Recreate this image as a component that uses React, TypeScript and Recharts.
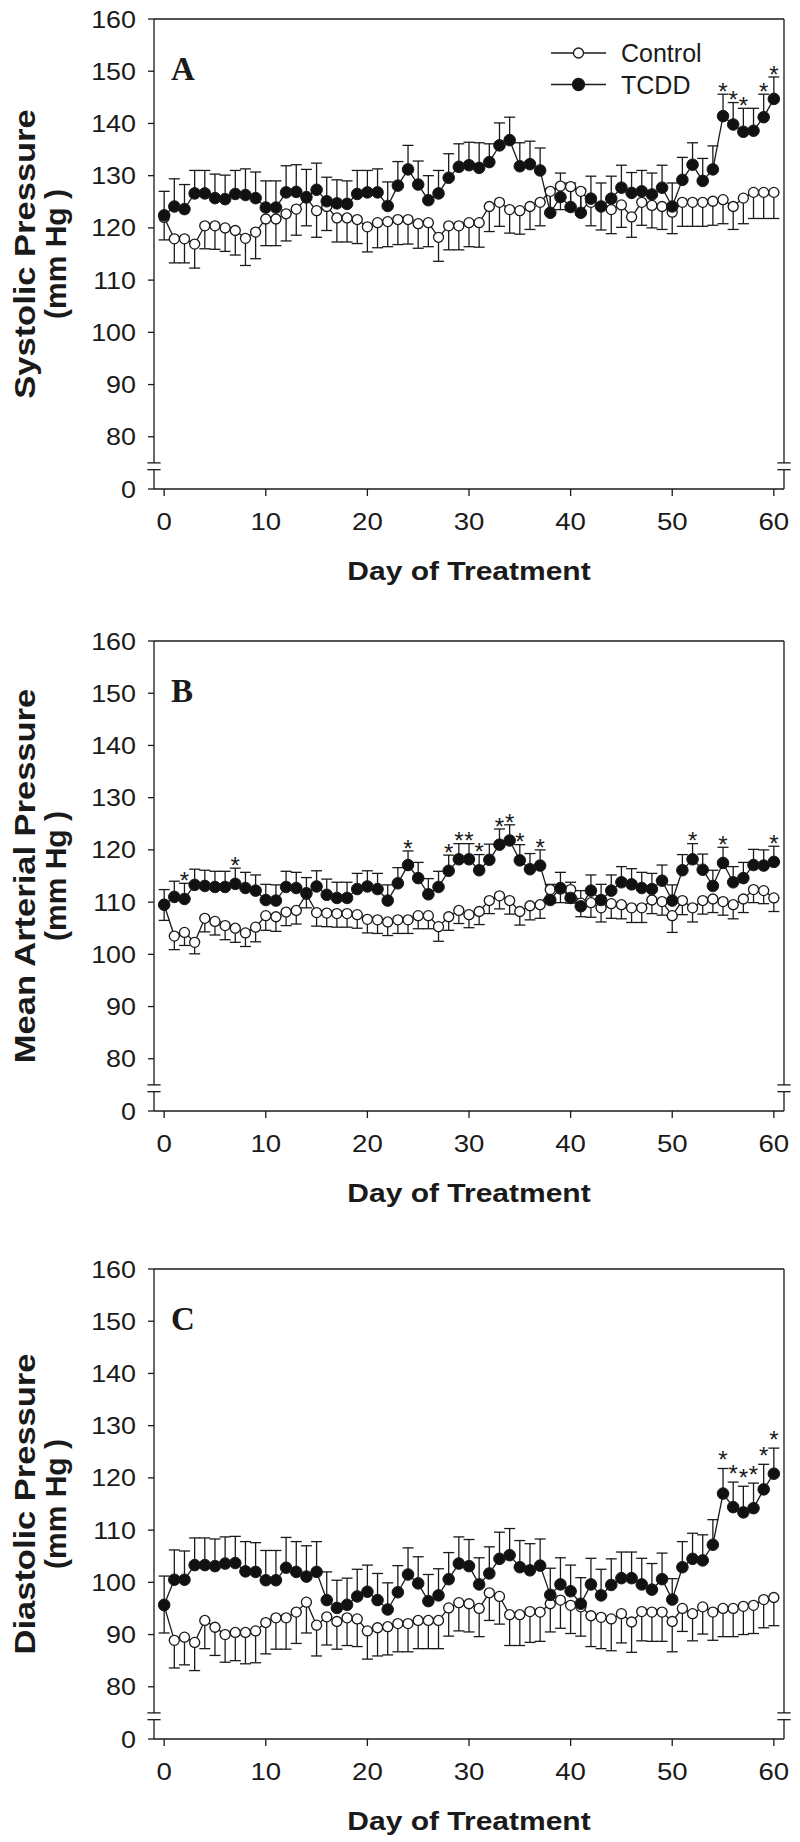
import React from "react";
import {
  ComposedChart,
  Line,
  Scatter,
  XAxis,
  YAxis,
  ErrorBar,
  ReferenceLine,
  Label,
  Legend,
  Customized,
} from "recharts";

// Day 0..60
const days = Array.from({ length: 61 }, (_, i) => i);
const xTicks = [0, 10, 20, 30, 40, 50, 60];
// the 0 tick sits where 70 would be (broken axis)
const yTicks = [70, 80, 90, 100, 110, 120, 130, 140, 150, 160];
const yTickLabel = (v: number) => (v === 70 ? "0" : String(v));

// ---- A: systolic ----
const ctrlA = [
  122, 117.9, 117.9, 116.9, 120.4, 120.4, 120, 119.5, 118, 119.2,
  121.7, 121.7, 122.7, 123.6, 125.7, 123.3, 124.1, 121.9, 121.9, 121.6,
  120.2, 121, 121.2, 121.6, 121.6, 120.8, 121, 118.2, 120.4, 120.4,
  121, 121, 124.1, 124.9, 123.5, 123.3, 124.1, 124.9, 127, 128,
  127.9, 127, 124.9, 124.1, 123.5, 124.4, 122.1, 124.9, 124.3, 124.1,
  123, 124.9, 124.9, 124.9, 125.1, 125.4, 124.1, 125.7, 126.8, 126.8,
  126.8,
];
const ctrlAErr = [
  4.3, 4.6, 4.6, 4.6, 4.4, 4.5, 4.5, 4.7, 5.2, 5.1,
  5.1, 5.1, 5.2, 5, 5.3, 5.1, 4.6, 4.6, 4.6, 4.6,
  4.8, 4.8, 4.8, 4.8, 4.7, 4.7, 4.6, 4.6, 4.6, 4.6,
  4.6, 4.7, 4.8, 4.6, 4.5, 4.5, 4.4, 4.5, 4.4, 4.5,
  4.6, 4.5, 4.5, 4.5, 4.6, 4.3, 3.9, 4.4, 4.3, 4.4,
  4.1, 4.6, 4.6, 4.6, 4.6, 4.6, 4.4, 4.9, 5, 5,
  5,
];
const tcddA = [
  122.4, 124.1, 123.6, 126.6, 126.6, 125.7, 125.5, 126.5, 126.3, 125.7,
  123.9, 123.9, 126.8, 126.9, 125.9, 127.3, 125.1, 124.7, 124.6, 126.5,
  126.8, 126.8, 124.2, 128.1, 131.2, 128.3, 125.3, 126.6, 129.6, 131.7,
  132, 131.5, 132.6, 135.8, 136.8, 131.8, 132.2, 131, 122.9, 125.9,
  124, 122.9, 125.6, 124.1, 125.6, 127.7, 126.7, 127, 126.4, 127.7,
  124.1, 129.2, 132.1, 129, 131.2, 141.4, 139.8, 138.4, 138.6, 141.2,
  144.7,
];
const tcddAErr = [
  4.6, 5.3, 4.7, 4.4, 4.4, 4.6, 4.6, 4.5, 5, 5,
  5.1, 5.1, 5.1, 5.2, 5.3, 5.1, 4.6, 4.5, 4.4, 4.5,
  4.2, 4.5, 4.6, 4.6, 4.6, 4.5, 4.7, 4.4, 4.6, 4.4,
  4.4, 4.8, 3.5, 4.3, 4.4, 4.5, 4.4, 4.3, 4.5, 4.6,
  4.6, 4.5, 4.3, 4.5, 4.3, 4.3, 3.9, 4, 4.1, 4.3,
  4.5, 4.3, 4.2, 4.3, 4.5, 4.2, 4.2, 4.5, 4.3, 4.4,
  4.2,
];
const starsA = [55, 56, 57, 59, 60];

// ---- B: mean arterial ----
const ctrlB = [
  109.5, 103.5, 104.2, 102.3, 106.9, 106.3, 105.5, 105, 104.1, 105.2,
  107.4, 107.2, 108.1, 108.4, 111.5, 108, 107.9, 107.8, 107.8, 107.6,
  106.7, 106.6, 106.2, 106.6, 106.6, 107.4, 107.4, 105.3, 107.2, 108.4,
  107.6, 108.2, 110.3, 111.2, 110.3, 108.2, 109.3, 109.5, 112.4, 112.5,
  112.4, 109.8, 109.9, 108.9, 109.7, 109.5, 108.9, 108.9, 110.4, 110.1,
  107.4, 110.3, 108.9, 110.3, 110.6, 110.1, 109.5, 110.6, 112.4, 112.2,
  110.8,
];
const ctrlBErr = [
  3, 2.6, 2.5, 2.2, 2.6, 2.6, 2.7, 2.7, 2.6, 2.8,
  2.8, 2.8, 2.6, 2.6, 2.6, 2.6, 2.6, 2.6, 2.6, 2.6,
  2.6, 2.6, 2.6, 2.6, 2.6, 2.5, 2.5, 2.8, 2.6, 2.5,
  2.5, 2.5, 2.5, 2.5, 2.6, 2.6, 2.7, 2.6, 2.6, 2.6,
  2.6, 2.6, 2.8, 2.7, 2.8, 2.7, 2.8, 2.8, 2.6, 2.6,
  3.2, 2.7, 2.7, 2.6, 2.6, 2.6, 2.7, 2.6, 2.5, 2.5,
  2.6,
];
const tcddB = [
  109.5, 111, 110.6, 113.3, 113.1, 112.9, 112.9, 113.5, 112.7, 112.2,
  110.4, 110.3, 112.9, 112.7, 111.7, 113, 111.4, 110.8, 110.8, 112.5,
  113, 112.5, 110.3, 113.6, 117.1, 114.6, 111.5, 112.9, 116, 118.2,
  118.2, 116.1, 118.1, 121, 121.8, 118, 116.3, 117, 110.4, 112.7,
  110.8, 109.2, 112.2, 110.4, 112.2, 113.8, 113.4, 112.7, 112.5, 114.1,
  110.3, 116.1, 118.2, 116.2, 113.1, 117.5, 113.8, 114.6, 117.1, 117,
  117.7,
];
const tcddBErr = [
  2.9, 3, 3, 3, 3, 3, 3, 3, 3, 3,
  3, 3, 3, 3, 3, 3, 3, 3, 3, 3,
  3, 3, 3, 3, 2.7, 3, 3, 3, 3, 3,
  3, 3, 3, 3, 3, 3, 3, 3, 3, 3,
  3, 3, 3, 3, 3, 3, 3, 3, 3, 3,
  3, 3, 3, 3, 3, 3, 3, 3, 3, 3,
  3,
];
const starsB = [2, 7, 24, 28, 29, 30, 31, 33, 34, 35, 37, 52, 55, 60];

// ---- C: diastolic ----
const ctrlC = [
  95.5, 88.9, 89.5, 88.5, 92.7, 91.4, 90, 90.4, 90.4, 90.7,
  92.3, 93.2, 93.2, 94.3, 96.2, 91.8, 93.4, 92.5, 93.2, 93,
  90.7, 91.3, 91.5, 92.1, 92.1, 92.7, 92.7, 92.7, 95.1, 96.1,
  95.9, 95, 98, 97.3, 93.8, 93.8, 94.4, 94.3, 95.9, 96.6,
  95.6, 95.3, 93.6, 93.3, 93, 94, 92.4, 94.4, 94.3, 94.3,
  92.5, 95, 94, 95.3, 94.3, 95, 95, 95.4, 95.6, 96.7,
  97.1,
];
const ctrlCErr = [
  5.2, 5.3, 5.3, 5.4, 5.4, 5.4, 5.3, 5.4, 6, 6.1,
  6, 6, 6, 6, 5.9, 5.9, 5.4, 5.3, 5.3, 5.3,
  5.4, 5.4, 5.4, 5.4, 5.4, 5.4, 5.4, 5.4, 5.4, 5.4,
  5.4, 5.4, 5.3, 5.3, 5.9, 5.9, 5.9, 5.6, 5.4, 5.4,
  5.4, 5.6, 5.9, 6, 6.1, 5.6, 5.8, 5.6, 5.6, 5.6,
  5.8, 4.4, 5.2, 5.2, 5.4, 5.4, 5.4, 5.4, 5.4, 5.4,
  5.4,
];
const tcddC = [
  95.7, 100.5, 100.5, 103.3, 103.3, 103.1, 103.6, 103.7, 102.1, 102,
  100.4, 100.4, 102.8, 102, 101.1, 102, 96.6, 95.1, 95.7, 97.3,
  98.2, 96.6, 94.8, 98.1, 101.5, 99.8, 96.4, 97.5, 100.6, 103.6,
  103.1, 99.6, 101.7, 104.5, 105.2, 102.9, 102.3, 103.2, 97.6, 99.6,
  98.3, 95.9, 99.6, 97.5, 99.5, 100.8, 100.8, 99.6, 98.6, 100.6,
  96.7, 102.9, 104.5, 104.2, 107.2, 117, 114.4, 113.4, 114.2, 117.8,
  120.8,
];
const tcddCErr = [
  5.5, 5.7, 5.5, 5.2, 5.2, 5.2, 5.1, 5.1, 5.7, 5.6,
  5.7, 5.7, 5.8, 5.8, 5.9, 5.8, 5.4, 5.3, 5.1, 5.2,
  5.1, 5.1, 5.1, 5.1, 5.1, 5.1, 5.1, 5.1, 5.1, 5.1,
  5.1, 5.1, 5.1, 5.1, 5.1, 5.1, 5.1, 5.1, 5.1, 5.1,
  5, 5, 5, 5, 5, 5, 5, 5, 5, 5,
  4, 4.9, 4.9, 4.9, 4.8, 4.8, 4.8, 5, 4.8, 4.8,
  4.9,
];
const starsC = [55, 56, 57, 58, 59, 60];

const SERIES = [
  { name: "Control", fill: "#ffffff", r: 5 },
  { name: "TCDD", fill: "#111111", r: 6 },
];

const INK = "#1a1a1a";
const SANS = "'Liberation Sans', Arial, Helvetica, sans-serif";
const SERIF = "'Liberation Serif', 'Times New Roman', serif";

const XTick = (props: any) => (
  <text
    transform={`translate(${props.x} ${props.y}) scale(1.15 1)`}
    textAnchor="middle"
    dy={17.5}
    fontSize={24}
    fontFamily={SANS}
    fill={INK}
  >
    {props.payload.value}
  </text>
);

const YTick = (props: any) => (
  <text
    transform={`translate(${props.x} ${props.y}) scale(1.12 1)`}
    textAnchor="end"
    dy={8.5}
    fontSize={24}
    fontFamily={SANS}
    fill={INK}
  >
    {yTickLabel(props.payload.value)}
  </text>
);

const XTitle = ({ viewBox }: any) => (
  <text
    transform={`translate(${viewBox.x + viewBox.width / 2} ${viewBox.y + 91}) scale(1.2 1)`}
    textAnchor="middle"
    fontSize={25}
    fontWeight="bold"
    fontFamily={SANS}
    fill={INK}
  >
    Day of Treatment
  </text>
);

const makeYTitle = (title: string) => ({ viewBox }: any) => {
  const cy = viewBox.y + viewBox.height / 2;
  return (
    <g fontSize={30} fontWeight="bold" fontFamily={SANS} fill={INK}>
      <text transform={`translate(35 ${cy}) rotate(-90) scale(1.15 1)`} textAnchor="middle">
        {title}
      </text>
      <text transform={`translate(66 ${cy}) rotate(-90)`} textAnchor="middle">
        (mm Hg )
      </text>
    </g>
  );
};

const LegendBox = () => (
  <svg width={200} height={70} style={{ display: "block" }}>
    {SERIES.map((s, i) => {
      const cy = 17 + i * 31.5;
      return (
        <g key={s.name}>
          <line x1={3} x2={58} y1={cy} y2={cy} stroke={INK} strokeWidth={1.3} />
          <circle cx={30.5} cy={cy} r={s.r} fill={s.fill} stroke={INK} strokeWidth={1.3} />
          <text x={73} y={cy + 9} fontSize={25} fontFamily={SANS} fill={INK}>
            {s.name}
          </text>
        </g>
      );
    })}
  </svg>
);

const makeStar = (off: number) => (props: any) => (
  <text
    x={props.cx}
    y={props.cy - off + 13.7}
    textAnchor="middle"
    fontSize={24}
    fontFamily={SANS}
    fill={INK}
  >
    *
  </text>
);

type PanelProps = {
  top: number;
  letter: string;
  title: string;
  ctrl: number[];
  ctrlErr: number[];
  tcdd: number[];
  tcddErr: number[];
  stars: number[];
  starOff: number;
  legend?: boolean;
};

function Panel(p: PanelProps) {
  const rows = days.map((d, i) => ({
    day: d,
    ctrl: p.ctrl[i],
    ctrlErr: [p.ctrlErr[i], 0],
    tcdd: p.tcdd[i],
    tcddErr: [0, p.tcddErr[i]],
  }));
  const starRows = p.stars.map((d) => ({ day: d, star: p.tcdd[d] + p.tcddErr[d] }));
  const axis = { stroke: INK, strokeWidth: 1.3, ifOverflow: "visible" as const };

  return (
    <div style={{ position: "absolute", left: 0, top: p.top }}>
      <ComposedChart width={800} height={600} data={rows} margin={{ top: 19, right: 16, bottom: 0, left: 0 }}>
        <XAxis
          dataKey="day"
          type="number"
          domain={[-1, 61]}
          ticks={xTicks}
          tick={<XTick />}
          tickSize={7}
          tickMargin={16}
          height={111}
          stroke={INK}
          strokeWidth={1.3}
        >
          <Label content={<XTitle />} />
        </XAxis>
        <YAxis
          type="number"
          domain={[70, 160]}
          ticks={yTicks}
          tick={<YTick />}
          tickSize={6}
          tickMargin={12}
          width={154}
          axisLine={false}
          tickLine={{ stroke: INK, strokeWidth: 1.3 }}
        >
          <Label content={makeYTitle(p.title)} />
        </YAxis>

        {/* frame with axis breaks */}
        <ReferenceLine segment={[{ x: -1, y: 70 }, { x: -1, y: 73.7 }]} {...axis} />
        <ReferenceLine segment={[{ x: -1, y: 75 }, { x: -1, y: 160 }]} {...axis} />
        <ReferenceLine segment={[{ x: 61, y: 70 }, { x: 61, y: 73.7 }]} {...axis} />
        <ReferenceLine segment={[{ x: 61, y: 75 }, { x: 61, y: 160 }]} {...axis} />
        <ReferenceLine segment={[{ x: -1, y: 160 }, { x: 61, y: 160 }]} {...axis} />
        <ReferenceLine segment={[{ x: -1.65, y: 73.7 }, { x: -0.35, y: 73.7 }]} {...axis} />
        <ReferenceLine segment={[{ x: -1.65, y: 75 }, { x: -0.35, y: 75 }]} {...axis} />
        <ReferenceLine segment={[{ x: 60.35, y: 73.7 }, { x: 61.65, y: 73.7 }]} {...axis} />
        <ReferenceLine segment={[{ x: 60.35, y: 75 }, { x: 61.65, y: 75 }]} {...axis} />

        <Line
          dataKey="ctrl"
          name="Control"
          stroke={INK}
          strokeWidth={1.3}
          dot={{ r: 5, fill: "#ffffff", stroke: INK, strokeWidth: 1.3 }}
          activeDot={false}
          isAnimationActive={false}
        >
          <ErrorBar dataKey="ctrlErr" direction="y" width={5.5} stroke={INK} strokeWidth={1.3} />
        </Line>
        <Line
          dataKey="tcdd"
          name="TCDD"
          stroke={INK}
          strokeWidth={1.3}
          dot={{ r: 5.8, fill: "#111111", stroke: INK, strokeWidth: 1 }}
          activeDot={false}
          isAnimationActive={false}
        >
          <ErrorBar dataKey="tcddErr" direction="y" width={5.5} stroke={INK} strokeWidth={1.3} />
        </Line>
        <Scatter data={starRows} dataKey="star" shape={makeStar(p.starOff)} isAnimationActive={false} legendType="none" />

        <Customized
          component={() => (
            <text x={171} y={80} fontSize={33} fontWeight="bold" fontFamily={SERIF} fill={INK}>
              {p.letter}
            </text>
          )}
        />
        {p.legend && (
          <Legend
            layout="horizontal"
            verticalAlign="middle"
            align="center"
            content={<LegendBox />}
            wrapperStyle={{ position: "absolute", left: 548, top: 36, width: 200, height: 70 }}
          />
        )}
      </ComposedChart>
    </div>
  );
}

export default function App() {
  return (
    <div style={{ position: "absolute", left: 0, top: 0, width: 800, height: 1842, background: "#fff" }}>
      <Panel top={0} letter="A" title="Systolic Pressure" ctrl={ctrlA} ctrlErr={ctrlAErr} tcdd={tcddA} tcddErr={tcddAErr} stars={starsA} starOff={8} legend />
      <Panel top={622} letter="B" title="Mean Arterial Pressure" ctrl={ctrlB} ctrlErr={ctrlBErr} tcdd={tcddB} tcddErr={tcddBErr} stars={starsB} starOff={8} />
      <Panel top={1250} letter="C" title="Diastolic Pressure" ctrl={ctrlC} ctrlErr={ctrlCErr} tcdd={tcddC} tcddErr={tcddCErr} stars={starsC} starOff={14} />
    </div>
  );
}
